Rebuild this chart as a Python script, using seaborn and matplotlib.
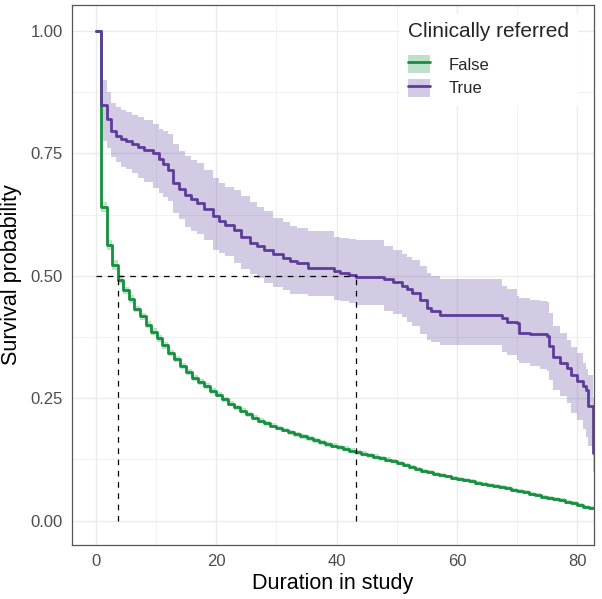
import matplotlib
matplotlib.use("Agg")
import matplotlib.pyplot as plt
from matplotlib.patches import Patch
from matplotlib.lines import Line2D
import numpy as np
import pandas as pd
import seaborn as sns

# Kaplan-Meier estimates, clinically referred = True
true_time = [0.0, 0.8, 1.8, 2.6, 3.4, 4.2, 5.0, 6.0, 7.0, 8.0, 9.5, 10.5, 11.2, 12.0,
             12.9, 13.8, 14.8, 15.8, 16.8, 18.0, 19.5, 20.5, 21.5, 23.0, 24.2, 25.6,
             26.7, 28.0, 29.5, 31.1, 32.3, 33.4, 35.3, 39.6, 40.6, 42.0, 43.3, 47.8,
             49.4, 50.8, 51.7, 52.5, 53.9, 55.0, 55.6, 57.2, 67.5, 68.3, 70.0, 70.3,
             72.2, 73.8, 75.0, 75.2, 76.0, 77.1, 78.2, 79.0, 79.9, 81.0, 81.5, 81.8,
             82.6, 83.0]
true_surv = [1.000, 0.848, 0.821, 0.795, 0.785, 0.780, 0.775, 0.770, 0.762, 0.757, 0.750,
             0.738, 0.728, 0.716, 0.690, 0.678, 0.665, 0.656, 0.649, 0.636, 0.621, 0.612,
             0.604, 0.594, 0.580, 0.567, 0.560, 0.552, 0.545, 0.537, 0.531, 0.526, 0.516,
             0.510, 0.506, 0.502, 0.498, 0.494, 0.488, 0.480, 0.472, 0.465, 0.451, 0.435,
             0.428, 0.420, 0.413, 0.405, 0.403, 0.384, 0.382, 0.380, 0.376, 0.356, 0.333,
             0.322, 0.312, 0.298, 0.284, 0.274, 0.267, 0.233, 0.138, 0.138]
true_lower = [1.000, 0.775, 0.760, 0.743, 0.733, 0.723, 0.718, 0.710, 0.699, 0.692, 0.680,
              0.668, 0.660, 0.652, 0.628, 0.615, 0.600, 0.592, 0.585, 0.573, 0.553, 0.547,
              0.540, 0.526, 0.514, 0.503, 0.495, 0.486, 0.478, 0.470, 0.463, 0.462, 0.458,
              0.451, 0.448, 0.444, 0.440, 0.428, 0.422, 0.415, 0.405, 0.398, 0.380, 0.368,
              0.364, 0.358, 0.345, 0.338, 0.328, 0.322, 0.315, 0.310, 0.306, 0.288, 0.267,
              0.254, 0.240, 0.220, 0.206, 0.186, 0.170, 0.152, 0.100, 0.100]
true_upper = [1.000, 0.900, 0.876, 0.852, 0.845, 0.839, 0.835, 0.829, 0.825, 0.818, 0.810,
              0.800, 0.796, 0.790, 0.770, 0.754, 0.744, 0.737, 0.730, 0.715, 0.699, 0.690,
              0.682, 0.675, 0.662, 0.650, 0.640, 0.632, 0.618, 0.610, 0.602, 0.598, 0.592,
              0.580, 0.578, 0.575, 0.572, 0.560, 0.552, 0.545, 0.538, 0.533, 0.520, 0.506,
              0.500, 0.494, 0.480, 0.472, 0.458, 0.455, 0.451, 0.449, 0.446, 0.424, 0.397,
              0.383, 0.368, 0.355, 0.342, 0.322, 0.310, 0.298, 0.250, 0.250]

# Kaplan-Meier estimates, clinically referred = False
false_time = [0.0, 0.9, 1.8, 2.7, 3.7, 4.6, 5.5, 6.4, 7.4, 8.3, 9.2, 10.1, 11, 12, 13, 14,
              15, 16, 17, 18, 19, 20, 21, 22, 23, 24, 25, 26, 27, 28, 29, 30, 31, 32, 33,
              34, 35, 36, 37, 38, 39, 40, 41, 42, 43, 44, 45, 46, 47, 48, 49, 50, 51, 52,
              53, 54, 55, 56, 57, 58, 59, 60, 61, 62, 63, 64, 65, 66, 67, 68, 69, 70, 71,
              72, 73, 74, 75, 76, 77, 78, 79, 80, 81, 82, 83]
false_surv = [1.000, 0.641, 0.563, 0.522, 0.492, 0.470, 0.452, 0.432, 0.417, 0.400, 0.386,
              0.372, 0.358, 0.343, 0.330, 0.315, 0.303, 0.292, 0.283, 0.274, 0.265, 0.257,
              0.248, 0.239, 0.231, 0.224, 0.217, 0.210, 0.204, 0.199, 0.194, 0.189, 0.185,
              0.180, 0.176, 0.172, 0.168, 0.164, 0.160, 0.156, 0.153, 0.150, 0.147, 0.143,
              0.139, 0.136, 0.133, 0.130, 0.127, 0.124, 0.121, 0.117, 0.113, 0.109, 0.106,
              0.102, 0.099, 0.096, 0.093, 0.090, 0.087, 0.085, 0.082, 0.080, 0.077, 0.075,
              0.072, 0.070, 0.068, 0.066, 0.063, 0.061, 0.058, 0.055, 0.052, 0.049, 0.046,
              0.044, 0.041, 0.038, 0.035, 0.031, 0.028, 0.025, 0.022]
false_lower = [1.000, 0.631, 0.553, 0.512, 0.483, 0.462, 0.444, 0.425, 0.410, 0.393, 0.379,
               0.365, 0.351, 0.337, 0.324, 0.309, 0.297, 0.286, 0.277, 0.268, 0.259, 0.252,
               0.243, 0.234, 0.226, 0.219, 0.212, 0.205, 0.199, 0.194, 0.189, 0.184, 0.180,
               0.175, 0.171, 0.167, 0.163, 0.159, 0.155, 0.151, 0.148, 0.145, 0.142, 0.138,
               0.134, 0.131, 0.128, 0.125, 0.122, 0.119, 0.117, 0.113, 0.109, 0.105, 0.102,
               0.098, 0.095, 0.092, 0.089, 0.086, 0.083, 0.081, 0.078, 0.076, 0.073, 0.071,
               0.068, 0.066, 0.064, 0.062, 0.059, 0.057, 0.054, 0.051, 0.048, 0.045, 0.042,
               0.040, 0.037, 0.034, 0.031, 0.027, 0.024, 0.021, 0.018]
false_upper = [1.000, 0.651, 0.573, 0.532, 0.501, 0.478, 0.460, 0.439, 0.424, 0.407, 0.393,
               0.379, 0.365, 0.349, 0.336, 0.321, 0.309, 0.298, 0.289, 0.280, 0.271, 0.262,
               0.253, 0.244, 0.236, 0.229, 0.222, 0.215, 0.209, 0.204, 0.199, 0.194, 0.190,
               0.185, 0.181, 0.177, 0.173, 0.169, 0.165, 0.161, 0.158, 0.155, 0.152, 0.148,
               0.144, 0.141, 0.138, 0.135, 0.132, 0.129, 0.125, 0.121, 0.117, 0.113, 0.110,
               0.106, 0.103, 0.100, 0.097, 0.094, 0.091, 0.089, 0.086, 0.084, 0.081, 0.079,
               0.076, 0.074, 0.072, 0.070, 0.067, 0.065, 0.062, 0.059, 0.056, 0.053, 0.050,
               0.048, 0.045, 0.042, 0.039, 0.035, 0.032, 0.029, 0.026]

groups = ["False", "True"]
colors = {"False": "#13913f", "True": "#5e3c99"}
x_ticks = [0, 20, 40, 60, 80]
y_ticks = [0.00, 0.25, 0.50, 0.75, 1.00]
y_tick_labels = ["0.00", "0.25", "0.50", "0.75", "1.00"]

curves = {
    "False": pd.DataFrame({"time": false_time, "surv": false_surv,
                           "lower": false_lower, "upper": false_upper}),
    "True": pd.DataFrame({"time": true_time, "surv": true_surv,
                          "lower": true_lower, "upper": true_upper}),
}
long = pd.concat([df.assign(referred=g) for g, df in curves.items()], ignore_index=True)

sns.set_style("white")
plt.rcParams["font.family"] = ["Liberation Sans", "DejaVu Sans"]

fig = plt.figure(figsize=(6.02, 5.99), dpi=100)
ax = fig.add_axes([72 / 602, 1 - 545 / 599, 522 / 602, 540 / 599])

# grid (major + minor)
grid_col = "#ebebeb"
ax.set_xticks(x_ticks)
ax.set_yticks(y_ticks)
ax.set_yticklabels(y_tick_labels)
ax.set_xticks([10, 30, 50, 70], minor=True)
ax.set_yticks([0.125, 0.375, 0.625, 0.875], minor=True)
ax.grid(True, which="major", color=grid_col, linewidth=1.0, zorder=0)
ax.grid(True, which="minor", color=grid_col, linewidth=0.5, zorder=0)
ax.set_axisbelow(True)

# confidence ribbons
for g in groups:
    df = curves[g]
    ax.fill_between(df["time"], df["lower"], df["upper"], step="post",
                    color=colors[g], alpha=0.27, linewidth=0, zorder=1)

# survival curves
sns.lineplot(data=long, x="time", y="surv", hue="referred", hue_order=groups,
             palette=colors, drawstyle="steps-post", estimator=None, sort=False,
             linewidth=2.0, legend=False, ax=ax, zorder=3)

# median survival markers
medians = {}
for g in groups:
    df = curves[g]
    medians[g] = df.loc[df["surv"] <= 0.5, "time"].iloc[0]
dash = dict(color="black", linewidth=0.9, linestyle=(0, (4.5, 4.5)), zorder=4)
ax.plot([0, max(medians.values())], [0.5, 0.5], **dash)
for g in groups:
    ax.plot([medians[g], medians[g]], [0, 0.5], **dash)

ax.set_xlim(-3.95, 82.75)
ax.set_ylim(-0.05, 1.053)

ax.set_xlabel("Duration in study", fontsize=15.5, color="black", labelpad=3)
ax.set_ylabel("Survival probability", fontsize=15.5, color="black", labelpad=6)
ax.tick_params(which="major", direction="out", length=4, width=0.9, color="#333333",
               labelcolor="#4d4d4d", labelsize=12, pad=2.5)
ax.tick_params(which="minor", length=0)
for s in ax.spines.values():
    s.set_color("#555555")
    s.set_linewidth(0.9)

handles = [(Patch(facecolor=colors[g], alpha=0.27, linewidth=0),
            Line2D([], [], color=colors[g], linewidth=2.0)) for g in groups]
leg = ax.legend(handles, groups, title="Clinically referred", loc="upper left",
                bbox_to_anchor=(0.612, 0.999), frameon=True, fancybox=False,
                framealpha=1.0, edgecolor="white", fontsize=12, title_fontsize=15,
                handlelength=1.3, handleheight=1.3, handletextpad=1.1,
                labelspacing=0.32, borderpad=0.5, alignment="left")
leg._legend_box.sep = 10
leg.set_zorder(5)

fig.savefig("out.png", dpi=100)
